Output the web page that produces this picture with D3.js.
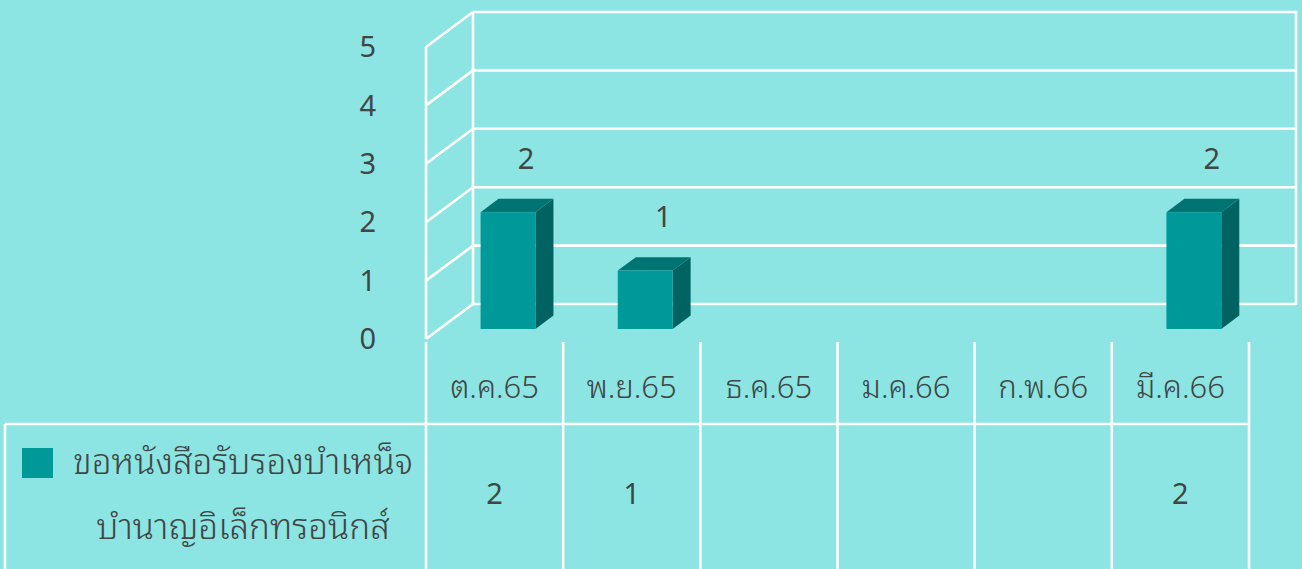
<!DOCTYPE html>
<html>
<head>
<meta charset="utf-8">
<script src="https://cdn.jsdelivr.net/npm/d3@7"></script>
<style>
html,body{margin:0;padding:0;background:#8ce5e2;}
svg{display:block;}
text{font-family:"Noto Sans","DejaVu Sans",sans-serif;fill:#404545;}
text.thai{font-family:"Noto Sans Thai Looped","Loma","Garuda","Tahoma","Noto Sans Thai","Noto Sans",sans-serif;font-weight:300;}
</style>
</head>
<body>
<svg id="c" width="1302" height="569"></svg>
<script>
const categories = ["ต.ค.65","พ.ย.65","ธ.ค.65","ม.ค.66","ก.พ.66","มี.ค.66"];
const values = [2, 1, null, null, null, 2];
const seriesName = "ขอหนังสือรับรองบำเหน็จบำนาญอิเล็กทรอนิกส์";
const seriesLines = ["ขอหนังสือรับรองบำเหน็จ","บำนาญอิเล็กทรอนิกส์"];
const yTicks = [0,1,2,3,4,5];

const svg = d3.select("#c");
const W = 1302, H = 569;
svg.append("rect").attr("width",W).attr("height",H).attr("fill","#8ce5e2");

const x = d3.scaleBand().domain(categories).range([426,1249]).paddingInner(0).paddingOuter(0);
const y = d3.scaleLinear().domain([0,5]).range([339,47]);
const DX = 47, DY = -35;           // depth vector of the 3D box
const d1 = 0.286, d2 = 0.669;       // bar depth range
const barFrac = 0.4;
const grid = "#ffffff";
const gw = 2.6;

const g = svg.append("g");
yTicks.forEach(t=>{
  g.append("line").attr("x1",x.range()[0]+DX).attr("x2",x.range()[1]+DX)
   .attr("y1",y(t)+DY).attr("y2",y(t)+DY).attr("stroke",grid).attr("stroke-width",gw);
  g.append("line").attr("x1",x.range()[0]).attr("x2",x.range()[0]+DX)
   .attr("y1",y(t)).attr("y2",y(t)+DY).attr("stroke",grid).attr("stroke-width",gw);
});
g.append("line").attr("x1",x.range()[0]+DX).attr("x2",x.range()[0]+DX)
 .attr("y1",y(5)+DY).attr("y2",y(0)+DY).attr("stroke",grid).attr("stroke-width",gw);
g.append("line").attr("x1",x.range()[1]+DX).attr("x2",x.range()[1]+DX)
 .attr("y1",y(5)+DY-1).attr("y2",y(0)+DY+1).attr("stroke",grid).attr("stroke-width",gw);
g.append("line").attr("x1",x.range()[0]).attr("x2",x.range()[0])
 .attr("y1",y(5)).attr("y2",y(0)).attr("stroke",grid).attr("stroke-width",gw);

svg.append("g").selectAll("text").data(yTicks).join("text")
  .attr("x",376).attr("y",d=>y(d)).attr("dy","0.35em")
  .attr("text-anchor","end").attr("font-size",29).text(d=>d);

const bw = x.bandwidth()*barFrac;
const bars = svg.append("g");
categories.forEach((c,i)=>{
  const v = values[i];
  if (v==null) return;
  const fx = x(c) + (x.bandwidth()-bw)/2 + d1*DX;
  const fy0 = y(0) + d1*DY;
  const fy1 = y(v) + d1*DY;
  const ddx = (d2-d1)*DX, ddy = (d2-d1)*DY;
  bars.append("path").attr("d",`M${fx+bw},${fy1}L${fx+bw+ddx},${fy1+ddy}L${fx+bw+ddx},${fy0+ddy}L${fx+bw},${fy0}Z`)
     .attr("fill","#006362");
  bars.append("path").attr("d",`M${fx},${fy1}L${fx+ddx},${fy1+ddy}L${fx+bw+ddx},${fy1+ddy}L${fx+bw},${fy1}Z`)
     .attr("fill","#007473");
  bars.append("rect").attr("x",fx).attr("y",fy1).attr("width",bw).attr("height",fy0-fy1)
     .attr("fill","#009999");
  bars.append("text").attr("x",fx+bw/2+ddx).attr("y",fy1+ddy-40).attr("dy","0.35em")
     .attr("text-anchor","middle").attr("font-size",29).text(v);
});

const t = svg.append("g");
const tableTop = 424;
const edges = categories.map(c=>x(c)).concat([x.range()[1]]);
edges.forEach(e=>{
  t.append("line").attr("x1",e).attr("x2",e).attr("y1",342).attr("y2",H)
   .attr("stroke",grid).attr("stroke-width",gw);
});
t.append("line").attr("x1",5).attr("x2",x.range()[1]).attr("y1",tableTop).attr("y2",tableTop)
 .attr("stroke",grid).attr("stroke-width",gw);
t.append("line").attr("x1",5).attr("x2",5).attr("y1",tableTop).attr("y2",H)
 .attr("stroke",grid).attr("stroke-width",gw);

t.selectAll("text.cat").data(categories).join("text").attr("class","cat thai")
 .attr("x",d=>x(d)+x.bandwidth()/2).attr("y",387).attr("dy","0.35em")
 .attr("text-anchor","middle").attr("font-size",31).text(d=>d);
t.selectAll("text.val").data(categories.map((c,i)=>({c,v:values[i]})).filter(d=>d.v!=null)).join("text").attr("class","val")
 .attr("x",d=>x(d.c)+x.bandwidth()/2).attr("y",494).attr("dy","0.35em")
 .attr("text-anchor","middle").attr("font-size",29).text(d=>d.v);

t.append("rect").attr("x",22).attr("y",448).attr("width",31).attr("height",30).attr("fill","#009999");
seriesLines.forEach((s,i)=>{
  t.append("text").attr("class","thai").attr("x",243).attr("y",462+i*65).attr("dy","0.35em")
   .attr("text-anchor","middle").attr("font-size",35).text(s);
});
</script>
</body>
</html>
